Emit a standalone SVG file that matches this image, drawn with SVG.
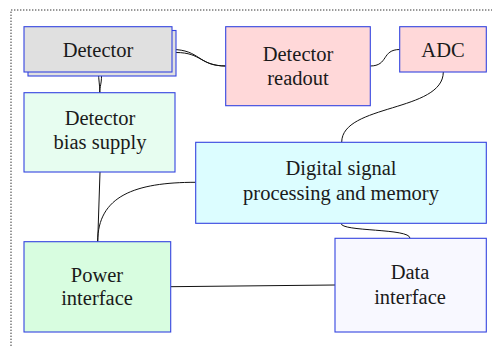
<svg xmlns="http://www.w3.org/2000/svg" width="492" height="346" viewBox="0 0 492 346">
<style>
.box{stroke:#3444e0;stroke-width:1.1}
.t{font-family:'Liberation Serif','DejaVu Serif',serif;font-size:20.5px;fill:#1a1a1a;text-anchor:middle}
.c{fill:none;stroke:#111;stroke-width:1}
</style>
<rect width="492" height="346" fill="#fff"/>
<path d="M11,346 V10 H492" fill="none" stroke="#333" stroke-width="1" stroke-dasharray="1.4 1.6"/>
<g id="connectors">
<path class="c" d="M172,49.5 C200,49.5 198,66 226,66"/>
<path class="c" d="M176,52.5 C202,52.5 200,66 226,66"/>
<path class="c" d="M98.5,72 C98.5,80 99.8,84 99.8,92.7"/>
<path class="c" d="M101.5,76 C101.5,84 99.8,86 99.8,92.7"/>
<path class="c" d="M370,66 C389,66 381,49.5 400,49.5"/>
<path class="c" d="M443.3,72 C443.3,112 341.7,104 341.7,142.3"/>
<path class="c" d="M100,172 L97.7,241.7"/>
<path class="c" d="M195.7,182.3 C135,182.3 97.7,196 97.7,241.7"/>
<path class="c" d="M170.7,286.7 L335,285"/>
<path class="c" d="M341,223.3 C341,232 410,228 410,238.3"/>
</g>
<g id="detector">
<rect class="box" x="28" y="30.5" width="148" height="45.5" fill="#e0e0e0"/>
<rect class="box" x="24" y="26.7" width="148" height="45.3" fill="#e0e0e0"/>
<text class="t" x="98" y="56.5">Detector</text>
</g>
<g id="readout">
<rect class="box" x="225.7" y="26.7" width="144.6" height="79" fill="#ffd8d9"/>
<text class="t" x="298" y="61">Detector</text>
<text class="t" x="298" y="85">readout</text>
</g>
<g id="adc">
<rect class="box" x="399.7" y="26.7" width="86.6" height="45.3" fill="#ffd8d9"/>
<text class="t" x="443" y="56.5">ADC</text>
</g>
<g id="bias">
<rect class="box" x="24" y="92.7" width="151" height="79.3" fill="#e7fdf0"/>
<text class="t" x="100" y="125">Detector</text>
<text class="t" x="100" y="149">bias supply</text>
</g>
<g id="dsp">
<rect class="box" x="195.7" y="142.3" width="290.6" height="81" fill="#dcfdff"/>
<text class="t" x="341" y="175">Digital signal</text>
<text class="t" x="341" y="200">processing and memory</text>
</g>
<g id="power">
<rect class="box" x="24" y="241.7" width="146.7" height="90.3" fill="#d8fde0"/>
<text class="t" x="97" y="281.5">Power</text>
<text class="t" x="97" y="305">interface</text>
</g>
<g id="data">
<rect class="box" x="335" y="238.3" width="151.3" height="93.7" fill="#f8f8ff"/>
<text class="t" x="410" y="279">Data</text>
<text class="t" x="410" y="304">interface</text>
</g>
</svg>
